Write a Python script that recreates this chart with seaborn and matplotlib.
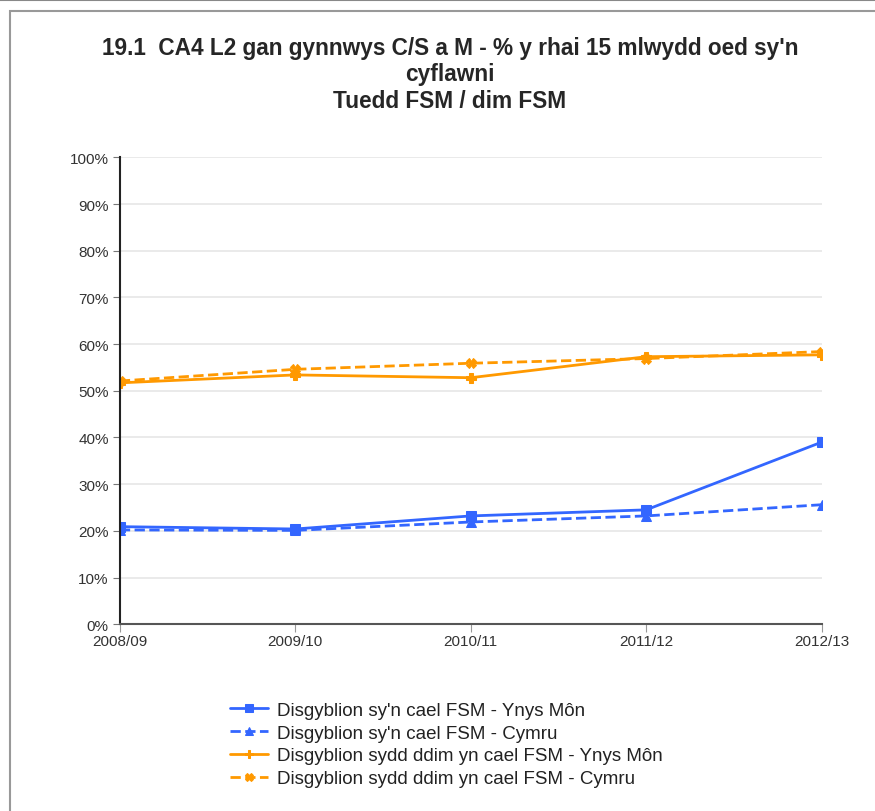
import pandas as pd
import matplotlib.pyplot as plt
import seaborn as sns
from matplotlib.patches import Rectangle
from matplotlib.lines import Line2D

# Data
years = ['2008/09', '2009/10', '2010/11', '2011/12', '2012/13']
fsm_mon = [20.9, 20.4, 23.2, 24.5, 39.0]
fsm_cymru = [20.2, 20.1, 21.9, 23.2, 25.6]
nonfsm_mon = [51.7, 53.4, 52.8, 57.3, 57.7]
nonfsm_cymru = [52.1, 54.6, 55.9, 56.9, 58.4]

labels = ["Disgyblion sy'n cael FSM - Ynys Môn",
          "Disgyblion sy'n cael FSM - Cymru",
          "Disgyblion sydd ddim yn cael FSM - Ynys Môn",
          "Disgyblion sydd ddim yn cael FSM - Cymru"]

sns.set_style('white')
plt.rcParams['font.family'] = ['Liberation Sans', 'DejaVu Sans']

fig = plt.figure(figsize=(8.75, 8.12), dpi=100)
ax = fig.add_axes([0.137, 0.230, 0.802, 0.575])

# page edge and chart box
fig.add_artist(Line2D([0, 1], [0.999, 0.999], transform=fig.transFigure,
                      color='#888888', linewidth=1.5))
fig.patches.append(Rectangle((0.011, -0.05), 1.1, 1.035, transform=fig.transFigure,
                             fill=False, edgecolor='#999999', linewidth=1.5))

blue = '#3366FF'
orange = '#FF9900'
styles = [
    (fsm_mon, blue, '-', 's', 7),
    (fsm_cymru, blue, '--', '^', 7),
    (nonfsm_mon, orange, '-', 'P', 7),
    (nonfsm_cymru, orange, '--', 'X', 7),
]
for (vals, col, ls, mk, ms), lab in zip(styles, labels):
    sns.lineplot(x=years, y=vals, ax=ax, color=col, linestyle=ls, marker=mk,
                 markersize=ms, markeredgecolor=col, linewidth=2, label=lab)

ax.set_ylim(0, 100)
ax.set_xlim(0, len(years) - 1)
ax.set_yticks(range(0, 101, 10))
ax.set_yticklabels([f'{v}%' for v in range(0, 101, 10)])
ax.grid(axis='y', color='#e6e6e6', linewidth=1.2)
ax.set_axisbelow(True)
for s in ['top', 'right']:
    ax.spines[s].set_visible(False)
ax.spines['left'].set_color('#222222')
ax.spines['left'].set_linewidth(1.5)
ax.spines['bottom'].set_color('#555555')
ax.spines['bottom'].set_linewidth(1.5)
ax.tick_params(axis='y', left=True, length=5, color='#777777', labelsize=11, labelcolor='#333333', pad=3)
ax.tick_params(axis='x', bottom=True, length=6, color='#999999', labelsize=11, labelcolor='#333333', pad=1)
ax.set_xlabel('')
ax.set_ylabel('')

fig.text(0.514, 0.955, "19.1  CA4 L2 gan gynnwys C/S a M - % y rhai 15 mlwydd oed sy'n\ncyflawni\nTuedd FSM / dim FSM",
         ha='center', va='top', fontsize=16.3, fontweight='bold', linespacing=1.2)

leg = ax.legend(loc='upper left', bbox_to_anchor=(0.157, -0.166), frameon=False,
                fontsize=13.5, handlelength=2.0, handletextpad=0.5, labelspacing=0.3,
                borderaxespad=0, borderpad=0, markerscale=0.8)
for t in leg.get_texts():
    t.set_color('#222222')

plt.savefig('out.png', dpi=100)
